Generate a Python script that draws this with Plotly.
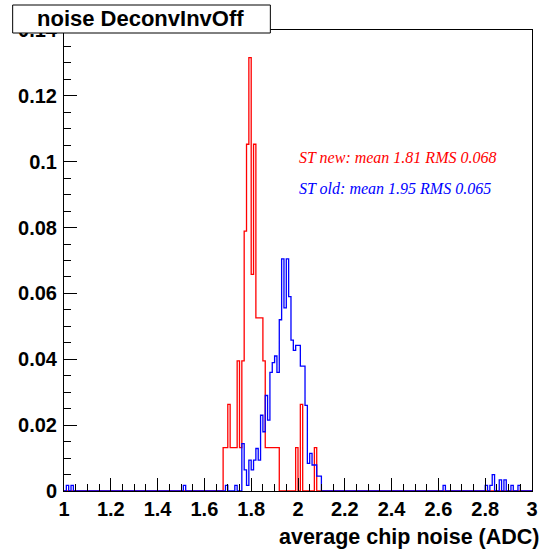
import numpy as np
import plotly.graph_objects as go

# Histogram binning: 200 bins of width 0.01 from 1 to 3
x_min, x_max, bin_w = 1.0, 3.0, 0.01

# ST new (red): non-empty bins (lower edge) and normalised contents
red_bins = [1.68, 1.69, 1.70, 1.71, 1.72, 1.73, 1.74, 1.75, 1.76, 1.77, 1.78, 1.79,
            1.80, 1.81, 1.82, 1.83, 1.84, 1.85, 1.86, 1.87, 1.88, 1.89, 1.90, 1.91,
            1.99, 2.01, 2.07]
red_vals = [0.0132, 0.0132, 0.0263, 0.0132, 0.0132, 0.0132, 0.0395, 0.0132, 0.0395,
            0.0789, 0.1053, 0.1316, 0.0658, 0.1053, 0.0526, 0.0526, 0.0526, 0.0395,
            0.0132, 0.0132, 0.0132, 0.0132, 0.0132, 0.0132, 0.0132, 0.0263, 0.0132]

# ST old (blue)
blue_bins = [1.01, 1.03, 1.51, 1.69, 1.73, 1.76, 1.77, 1.78, 1.79, 1.80, 1.81, 1.82,
             1.83, 1.84, 1.85, 1.86, 1.87, 1.88, 1.89, 1.90, 1.91, 1.92, 1.93, 1.94,
             1.95, 1.96, 1.97, 1.98, 1.99, 2.00, 2.01, 2.02, 2.03, 2.04, 2.05, 2.06,
             2.07, 2.08, 2.09, 2.62, 2.80, 2.82, 2.83, 2.86, 2.88, 2.91, 2.94]
blue_vals = [0.0017, 0.0017, 0.0017, 0.0017, 0.0017, 0.0144, 0.0064, 0.0017, 0.0094,
             0.0064, 0.0094, 0.0129, 0.0094, 0.0230, 0.0180, 0.0290, 0.0215, 0.0360,
             0.0390, 0.0410, 0.0360, 0.0520, 0.0705, 0.0556, 0.0705, 0.0590, 0.0458,
             0.0427, 0.0442, 0.0442, 0.0379, 0.0379, 0.0260, 0.0084, 0.0114, 0.0079,
             0.0079, 0.0045, 0.0045, 0.0017, 0.0017, 0.0017, 0.0050, 0.0034, 0.0034,
             0.0017, 0.0017]

labels = ["ST new: mean 1.81 RMS 0.068", "ST old: mean 1.95 RMS 0.065"]
colors = ["#ff0000", "#0000ff"]
title_text = "noise DeconvInvOff"
x_title = "average chip noise (ADC)"

nb = int(round((x_max - x_min) / bin_w))
edges = x_min + bin_w * np.arange(nb + 1)


def full_hist(bins, vals):
    h = np.zeros(nb)
    for b, v in zip(bins, vals):
        h[int(round((b - x_min) / bin_w))] = v
    return h


def step_xy(h):
    xs = np.concatenate([[edges[0]], edges[:-1], [edges[-1]], [edges[-1]]])
    ys = np.concatenate([[0.0], h, [h[-1]], [0.0]])
    return xs, ys


fig = go.Figure()
for bins, vals, col in [(red_bins, red_vals, colors[0]), (blue_bins, blue_vals, colors[1])]:
    xs, ys = step_xy(full_hist(bins, vals))
    fig.add_trace(go.Scatter(x=xs, y=ys, mode="lines", line=dict(color=col, width=1.3, shape="hv"),
                             hoverinfo="skip", showlegend=False, cliponaxis=False))

W, H = 542, 551
L, R, T, B = 64, 4, 30, 60
pw, ph = W - L - R, H - T - B

tickfont = dict(family="Liberation Sans, Arial", size=20, color="black", weight="bold")

fig.update_layout(
    width=W, height=H,
    margin=dict(l=L, r=R, t=T, b=B, pad=0),
    paper_bgcolor="white", plot_bgcolor="white",
    xaxis=dict(range=[1, 3], showgrid=False, zeroline=False, showline=True, linecolor="black",
               linewidth=1, mirror=True, ticks="inside", ticklen=13, tickwidth=1, tickcolor="black",
               tick0=1, dtick=0.2, tickfont=tickfont, ticklabeloverflow="allow",
               minor=dict(ticks="inside", ticklen=7, dtick=0.05, tickcolor="black", tickwidth=1,
                          showgrid=False)),
    yaxis=dict(range=[0, 0.14], showgrid=False, zeroline=False, showline=True, linecolor="black",
               linewidth=1, mirror=True, ticks="inside", ticklen=13, tickwidth=1, tickcolor="black",
               tick0=0, dtick=0.02, tickfont=tickfont, ticklabelstandoff=2, ticklabeloverflow="allow",
               minor=dict(ticks="inside", ticklen=7, dtick=0.005, tickcolor="black", tickwidth=1,
                          showgrid=False)),
)


def px(xp):
    return (xp - L) / pw


def py(yp):
    return (H - B - yp) / ph


# title box
fig.add_shape(type="rect", xref="paper", yref="paper", x0=px(12), x1=px(273), y0=py(33), y1=py(5),
              fillcolor="white", line=dict(color="black", width=1), layer="above")
fig.add_annotation(xref="paper", yref="paper", x=px(141), y=py(19), text=title_text, showarrow=False,
                   xanchor="center", yanchor="middle",
                   font=dict(family="Liberation Sans, Arial", size=22, color="black", weight="bold"))

# x axis title
fig.add_annotation(xref="paper", yref="paper", x=px(538), y=py(537), text=x_title, showarrow=False,
                   xanchor="right", yanchor="middle", xshift=9,
                   font=dict(family="Liberation Sans, Arial", size=21.5, color="black", weight="bold"))

# stats labels
for lab, col, yp in zip(labels, colors, [157, 188]):
    fig.add_annotation(xref="paper", yref="paper", x=px(300), y=py(yp), text=lab, showarrow=False,
                       xanchor="left", yanchor="middle",
                       font=dict(family="Liberation Serif, Times New Roman", size=16, color=col,
                                 style="italic"))

fig.write_html("out.html", config={"displayModeBar": False},
               post_script="document.body.style.margin='0';document.body.style.overflow='hidden';")
